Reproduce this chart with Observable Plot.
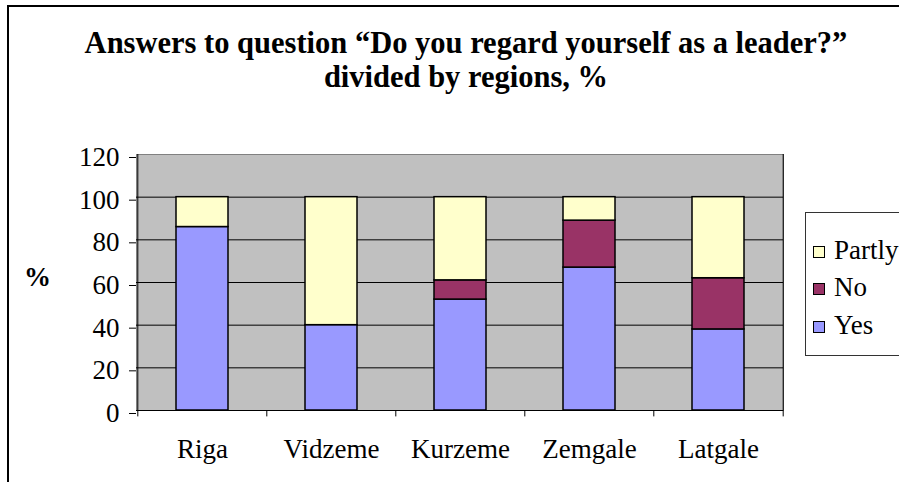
<!DOCTYPE html>
<html>
<head>
<meta charset="utf-8">
<script src="https://cdn.jsdelivr.net/npm/d3@7"></script>
<script src="https://cdn.jsdelivr.net/npm/@observablehq/plot@0.6"></script>
<style>
  html, body { margin: 0; padding: 0; background: #fff; }
  body { width: 899px; height: 482px; overflow: hidden; position: relative; }
  .serif { font-family: 'Liberation Serif', 'Times New Roman', Times, 'DejaVu Serif', serif; }
  #frame { position: absolute; left: 7px; top: 5px; width: 1000px; height: 1000px; border: 2px solid #000; box-sizing: border-box; }
  #title { position: absolute; left: 0; top: 26px; width: 932px; text-align: center; font-weight: bold; font-size: 30.5px; line-height: 34px; color: #000; }
  #ylabel { position: absolute; left: 24px; top: 262px; font-weight: bold; font-size: 27px; line-height: 30px; }
  #chart { position: absolute; left: 0; top: 130px; }
  #legend { position: absolute; left: 805px; top: 212px; width: 200px; height: 144px; border: 1px solid #333; box-sizing: border-box; background: #fff; }
  .item { position: absolute; left: 7px; height: 30px; line-height: 30px; font-size: 27px; white-space: nowrap; }
  .sw { display: inline-block; width: 10px; height: 10px; border: 1.5px solid #000; margin-right: 9px; vertical-align: 1px; }
</style>
</head>
<body>
<div id="frame"></div>
<div id="title" class="serif">Answers to question “Do you regard yourself as a leader?”<br>divided by regions, %</div>
<div id="ylabel" class="serif">%</div>
<div id="chart"></div>
<div id="legend" class="serif"></div>
<script>
const regions = ["Riga", "Vidzeme", "Kurzeme", "Zemgale", "Latgale"];
const series = ["Yes", "No", "Partly"];
const yes = [86, 40, 52, 67, 38];
const no = [0, 0, 9, 22, 24];
const partly = [14, 60, 39, 11, 38];
const colors = ["#9999FF", "#993366", "#FFFFCC"];
const yTicks = [0, 20, 40, 60, 80, 100, 120];
const gridValues = [20, 40, 60, 80, 100];

const values = {Yes: yes, No: no, Partly: partly};
const data = [];
regions.forEach((r, i) => series.forEach(s => {
  if (values[s][i] > 0) data.push({region: r, answer: s, value: values[s][i]});
}));

const W = 899, H = 352;
const mL = 136, mR = 116, mT = 24, mB = 72;
const pInner = 0.6, pOuter = 0.3;
const step = (W - mL - mR) / (regions.length - pInner + 2 * pOuter);
const FONT = "'Liberation Serif', 'Times New Roman', Times, 'DejaVu Serif', serif";

const plot = Plot.plot({
  width: W, height: H,
  marginLeft: mL, marginRight: mR, marginTop: mT, marginBottom: mB,
  style: {fontFamily: FONT, fontSize: "27px", color: "#000", background: "transparent"},
  x: {domain: regions, paddingInner: pInner, paddingOuter: pOuter, label: null},
  y: {domain: [0, 120], label: null},
  color: {domain: series, range: colors},
  marks: [
    Plot.frame({fill: "#C0C0C0", stroke: "#808080", strokeWidth: 1}),
    Plot.ruleY(gridValues, {stroke: "#000", strokeWidth: 1}),
    Plot.barY(data, {x: "region", y: "value", fill: "answer", order: series, stroke: "#000", strokeWidth: 1.5}),
    Plot.ruleY([0], {stroke: "#000", strokeWidth: 1}),
    Plot.ruleX([regions[0]], {dx: -step / 2, y1: -3, y2: 120, stroke: "#000"}),
    Plot.ruleX([regions[regions.length - 1]], {dx: step / 2, y1: -3, y2: 120, stroke: "#000"}),
    Plot.ruleX(regions.slice(1), {dx: -step / 2, y1: -3, y2: 0, stroke: "#000"}),
    Plot.axisY({ticks: yTicks, tickSize: 7, tickPadding: 10, dy: 3, stroke: "#000", label: null, fontSize: 27, fontVariant: "normal"}),
    Plot.axisX({tickSize: 0, tickPadding: 28, label: null, fontSize: 27})
  ]
});
plot.querySelectorAll("text").forEach(t => t.setAttribute("font-family", FONT));
document.getElementById("chart").appendChild(plot);

const legend = document.getElementById("legend");
const legendOrder = series.slice().reverse();
const rowTops = [22, 59, 97];
legendOrder.forEach((s, i) => {
  const div = document.createElement("div");
  div.className = "item";
  div.style.top = rowTops[i] + "px";
  const sw = document.createElement("span");
  sw.className = "sw";
  sw.style.background = colors[series.indexOf(s)];
  div.appendChild(sw);
  div.appendChild(document.createTextNode(s));
  legend.appendChild(div);
});
</script>
</body>
</html>
